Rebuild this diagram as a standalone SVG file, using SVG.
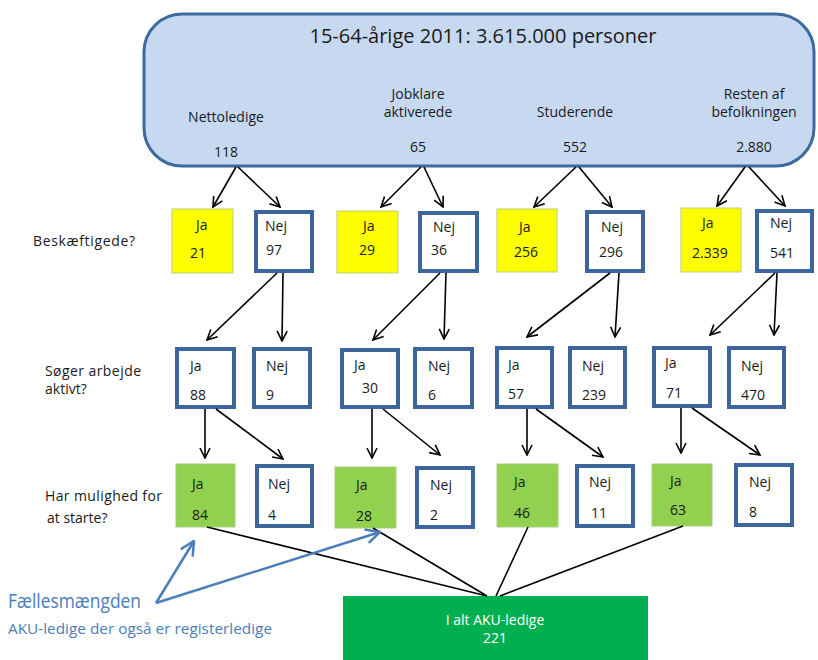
<svg xmlns="http://www.w3.org/2000/svg" width="818" height="660" viewBox="0 0 818 660">
<style>
text{font-family:"Open Sans","Liberation Sans",sans-serif;fill:#1a1a1a}
.t{font-size:14px}
.b{font-size:14px}
.lbl{font-size:14px}
.y{fill:#ffff00;stroke:#b9cf7a;stroke-width:1}
.g{fill:#92d050;stroke:#a6cf7a;stroke-width:1}
.w{fill:#fff;stroke:#3b659b;stroke-width:4}
.c line{stroke:#000;stroke-width:1.6;fill:none}
.a{marker-end:url(#ah)}
.bl{stroke:#4a7ebb;stroke-width:2.5;fill:none;marker-end:url(#bh)}
</style>
<defs>
<marker id="ah" viewBox="0 0 12 12" refX="11" refY="6" markerWidth="12" markerHeight="12" markerUnits="userSpaceOnUse" orient="auto">
<polyline points="1,1 11,6 1,11" fill="none" stroke="#000" stroke-width="1.6"/>
</marker>
<marker id="bh" viewBox="0 0 16 16" refX="15" refY="8" markerWidth="16" markerHeight="16" markerUnits="userSpaceOnUse" orient="auto">
<polyline points="1,1 15,8 1,15" fill="none" stroke="#4a7ebb" stroke-width="2.5"/>
</marker>
</defs>
<rect width="818" height="660" fill="#fff"/>

<g id="top">
<rect x="144" y="14" width="670" height="152" rx="38" ry="38" fill="#c6d9f1" stroke="#3d6a9c" stroke-width="3"/>
<text x="483" y="43" font-size="20" text-anchor="middle">15-64-årige 2011: 3.615.000 personer</text>
<text class="t" x="226" y="122" text-anchor="middle">Nettoledige</text>
<text class="t" x="418" y="99" text-anchor="middle">Jobklare</text>
<text class="t" x="418" y="117" text-anchor="middle">aktiverede</text>
<text class="t" x="575" y="117" text-anchor="middle">Studerende</text>
<text class="t" x="754" y="99" text-anchor="middle">Resten af</text>
<text class="t" x="754" y="117" text-anchor="middle">befolkningen</text>
<text class="t" x="226" y="157" text-anchor="middle">118</text>
<text class="t" x="418" y="152" text-anchor="middle">65</text>
<text class="t" x="575" y="152" text-anchor="middle">552</text>
<text class="t" x="754" y="152" text-anchor="middle">2.880</text>
</g>

<g id="labels">
<text class="lbl" x="33" y="246" textLength="102">Beskæftigede?</text>
<text class="lbl" x="45" y="376" textLength="96">Søger arbejde</text>
<text class="lbl" x="45" y="394">aktivt?</text>
<text class="lbl" x="45" y="501" textLength="117">Har mulighed for</text>
<text class="lbl" x="47" y="523">at starte?</text>
</g>

<g id="b1-ja"><rect class="y" x="172" y="209" width="61" height="64"/><text class="b" x="196" y="230">Ja</text><text class="b" x="190" y="258">21</text></g>
<g id="b1-nej"><rect class="w" x="256" y="212" width="56" height="59"/><text class="b" x="265" y="231">Nej</text><text class="b" x="266" y="255">97</text></g>
<g id="b2-ja"><rect class="y" x="337" y="211" width="61" height="62"/><text class="b" x="363" y="231">Ja</text><text class="b" x="359" y="255">29</text></g>
<g id="b2-nej"><rect class="w" x="420" y="213" width="57" height="58"/><text class="b" x="433" y="232">Nej</text><text class="b" x="431" y="255">36</text></g>
<g id="b3-ja"><rect class="y" x="497" y="209" width="60" height="63"/><text class="b" x="519" y="232">Ja</text><text class="b" x="514" y="257">256</text></g>
<g id="b3-nej"><rect class="w" x="587" y="212" width="56" height="59"/><text class="b" x="601" y="232">Nej</text><text class="b" x="599" y="257">296</text></g>
<g id="b4-ja"><rect class="y" x="681" y="208" width="60" height="64"/><text class="b" x="702" y="228">Ja</text><text class="b" x="692" y="258">2.339</text></g>
<g id="b4-nej"><rect class="w" x="757" y="211" width="55" height="60"/><text class="b" x="770" y="228">Nej</text><text class="b" x="770" y="258">541</text></g>

<g id="s1-ja"><rect class="w" x="177" y="349" width="57" height="58"/><text class="b" x="190" y="371">Ja</text><text class="b" x="190" y="400">88</text></g>
<g id="s1-nej"><rect class="w" x="254" y="349" width="56" height="58"/><text class="b" x="266" y="371">Nej</text><text class="b" x="266" y="400">9</text></g>
<g id="s2-ja"><rect class="w" x="342" y="350" width="56" height="57"/><text class="b" x="354" y="370">Ja</text><text class="b" x="362" y="393">30</text></g>
<g id="s2-nej"><rect class="w" x="415" y="349" width="57" height="58"/><text class="b" x="428" y="371">Nej</text><text class="b" x="428" y="400">6</text></g>
<g id="s3-ja"><rect class="w" x="497" y="348" width="55" height="59"/><text class="b" x="508" y="370">Ja</text><text class="b" x="508" y="399">57</text></g>
<g id="s3-nej"><rect class="w" x="570" y="348" width="55" height="59"/><text class="b" x="582" y="371">Nej</text><text class="b" x="582" y="400">239</text></g>
<g id="s4-ja"><rect class="w" x="654" y="348" width="56" height="58"/><text class="b" x="665" y="368">Ja</text><text class="b" x="666" y="398">71</text></g>
<g id="s4-nej"><rect class="w" x="729" y="348" width="55" height="59"/><text class="b" x="741" y="371">Nej</text><text class="b" x="741" y="400">470</text></g>

<g id="m1-ja"><rect class="g" x="176" y="464" width="59" height="63"/><text class="b" x="192" y="489">Ja</text><text class="b" x="192" y="520">84</text></g>
<g id="m1-nej"><rect class="w" x="257" y="466" width="55" height="60"/><text class="b" x="268" y="489">Nej</text><text class="b" x="268" y="520">4</text></g>
<g id="m2-ja"><rect class="g" x="335" y="467" width="61" height="61"/><text class="b" x="356" y="490">Ja</text><text class="b" x="356" y="521">28</text></g>
<g id="m2-nej"><rect class="w" x="417" y="468" width="56" height="59"/><text class="b" x="430" y="490">Nej</text><text class="b" x="430" y="520">2</text></g>
<g id="m3-ja"><rect class="g" x="497" y="464" width="61" height="63"/><text class="b" x="514" y="487">Ja</text><text class="b" x="514" y="518">46</text></g>
<g id="m3-nej"><rect class="w" x="577" y="466" width="56" height="60"/><text class="b" x="589" y="487">Nej</text><text class="b" x="591" y="518">11</text></g>
<g id="m4-ja"><rect class="g" x="652" y="464" width="60" height="62"/><text class="b" x="670" y="486">Ja</text><text class="b" x="670" y="515">63</text></g>
<g id="m4-nej"><rect class="w" x="736" y="465" width="56" height="60"/><text class="b" x="749" y="487">Nej</text><text class="b" x="749" y="517">8</text></g>

<g id="total">
<rect x="343" y="596" width="305" height="64" fill="#00b050"/>
<text x="495" y="625" font-size="14" text-anchor="middle" style="fill:#fff">I alt AKU-ledige</text>
<text x="495" y="643" font-size="14" text-anchor="middle" style="fill:#fff">221</text>
</g>

<g id="note">
<text x="8" y="608" font-size="20" textLength="133" lengthAdjust="spacingAndGlyphs" style="fill:#4a7ebb">Fællesmængden</text>
<text x="8" y="634" font-size="15" textLength="264" lengthAdjust="spacingAndGlyphs" style="fill:#4a7ebb">AKU-ledige der også er registerledige</text>
</g>

<g id="connectors" class="c">
<line class="a" x1="236" y1="167" x2="213" y2="207"/>
<line class="a" x1="238" y1="167" x2="280" y2="207"/>
<line class="a" x1="421" y1="167" x2="381" y2="207"/>
<line class="a" x1="424" y1="167" x2="443" y2="207"/>
<line class="a" x1="576" y1="167" x2="534" y2="207"/>
<line class="a" x1="579" y1="167" x2="612" y2="207"/>
<line class="a" x1="745" y1="167" x2="717" y2="206"/>
<line class="a" x1="749" y1="167" x2="785" y2="206"/>

<line class="a" x1="277" y1="273" x2="207" y2="340"/>
<line class="a" x1="283" y1="273" x2="282" y2="341"/>
<line class="a" x1="440" y1="273" x2="373" y2="340"/>
<line class="a" x1="446" y1="273" x2="444" y2="339"/>
<line class="a" x1="610" y1="273" x2="527" y2="337"/>
<line class="a" x1="619" y1="273" x2="615" y2="337"/>
<line class="a" x1="775" y1="273" x2="710" y2="335"/>
<line class="a" x1="777" y1="273" x2="774" y2="335"/>

<line class="a" x1="205" y1="409" x2="205" y2="458"/>
<line class="a" x1="216" y1="409" x2="283" y2="459"/>
<line class="a" x1="372" y1="409" x2="372" y2="458"/>
<line class="a" x1="383" y1="409" x2="440" y2="455"/>
<line class="a" x1="527" y1="409" x2="527" y2="455"/>
<line class="a" x1="536" y1="409" x2="603" y2="457"/>
<line class="a" x1="681" y1="408" x2="681" y2="453"/>
<line class="a" x1="692" y1="408" x2="760" y2="455"/>

<line x1="207" y1="527" x2="487" y2="596"/>
<line x1="373" y1="528" x2="487" y2="596"/>
<line x1="528" y1="527" x2="496" y2="596"/>
<line x1="683" y1="526" x2="500" y2="596"/>

<path class="bl" d="M156 603 L194 541"/>
<path class="bl" d="M156 603 L380 532"/>
</g>
</svg>
